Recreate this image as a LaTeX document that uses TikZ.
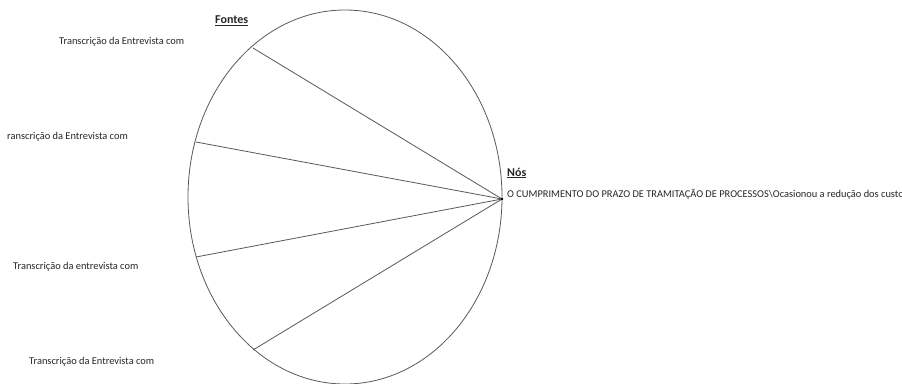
\documentclass[tikz,border=0pt]{standalone}
\usepackage{fontspec}
\setmainfont{Carlito}
\begin{document}
\begin{tikzpicture}[x=1pt,y=-1pt,
  lbl/.style={inner sep=0pt, anchor=west, font=\fontsize{10.4}{12}\selectfont, text=black!85},
  head/.style={inner sep=0pt, anchor=west, font=\fontsize{12}{14}\selectfont\bfseries, text=black!85},
  edge/.style={draw=black!65, line width=0.8pt}]
\useasboundingbox (0,0) rectangle (902,383);
\fill[white] (0,0) rectangle (902,383);
% hub and chord endpoints
\coordinate (hub) at (502,199);
\coordinate (s1) at (253,48);
\coordinate (s2) at (196,142);
\coordinate (s3) at (196,257);
\coordinate (s4) at (253,350);
\draw[edge] (345,197) ellipse (157 and 187);
\draw[edge] (s1) -- (hub);
\draw[edge] (s2) -- (hub);
\draw[edge] (s3) -- (hub);
\draw[edge] (s4) -- (hub);
\fill[black] (hub) circle (1.3);
% labels
\node[head] (fontes) at (215,21) {\underline{Fontes}};
\node[lbl] (t1) at (59,42) {Transcrição da Entrevista com};
\node[lbl] (t2) at (7,137) {ranscrição da Entrevista com};
\node[lbl] (t3) at (13,267) {Transcrição da entrevista com};
\node[lbl] (t4) at (29,362) {Transcrição da Entrevista com};
\node[head] (nos) at (507,173) {\underline{Nós}};
\node[lbl] (n1) at (507,194) {O CUMPRIMENTO DO PRAZO DE TRAMITAÇÃO DE PROCESSOS\textbackslash Ocasionou a redução dos custo};
\end{tikzpicture}
\end{document}
